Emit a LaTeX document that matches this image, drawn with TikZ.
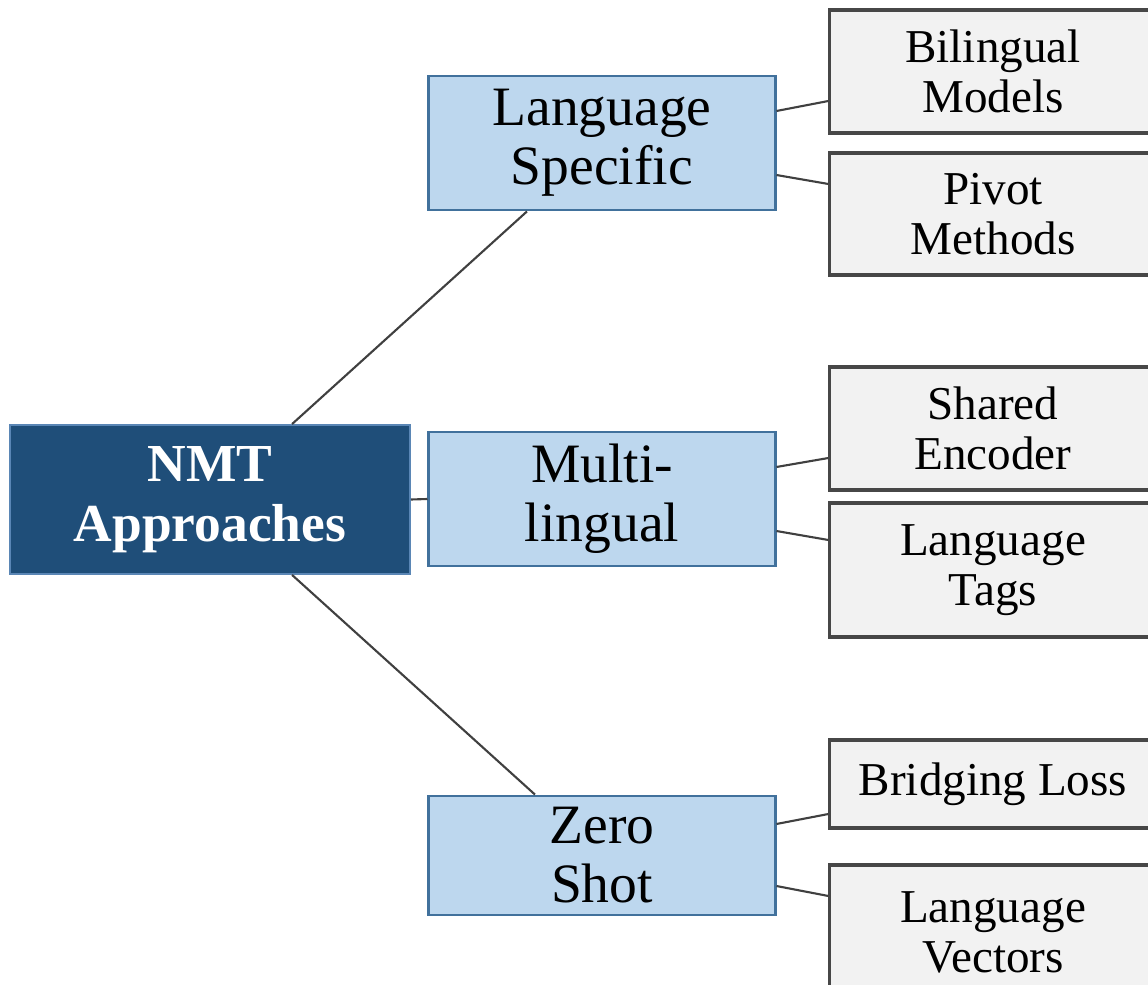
\documentclass[tikz,border=0pt]{standalone}
\usepackage{fontspec}
\setmainfont{Liberation Serif}
\usetikzlibrary{calc}
\definecolor{darkfill}{HTML}{1F4E79}
\definecolor{darkline}{HTML}{5A86B5}
\definecolor{lightfill}{HTML}{BDD7EE}
\definecolor{lightline}{HTML}{41719C}
\definecolor{grayfill}{HTML}{F2F2F2}
\definecolor{grayline}{HTML}{474747}
\definecolor{conn}{HTML}{404040}
\tikzset{
  rootbox/.style={draw=darkline, fill=darkfill, line width=0.5pt, text=white,
    font=\fontsize{15.2pt}{17pt}\selectfont\bfseries, align=center,
    minimum width=4cm, minimum height=1.49cm, inner sep=0pt},
  midbox/.style={draw=lightline, fill=lightfill, line width=0.8pt,
    font=\fontsize{15.8pt}{16.8pt}\selectfont, align=center,
    minimum width=3.46cm, inner sep=0pt},
  leafbox/.style={draw=grayline, fill=grayfill, line width=0.9pt,
    font=\fontsize{13.4pt}{14.2pt}\selectfont, align=center,
    minimum width=3.26cm, inner sep=0pt},
  link/.style={draw=conn, line width=0.6pt}
}
\begin{document}
\begin{tikzpicture}[x=0.01cm,y=-0.01cm]
\useasboundingbox (0,0) rectangle (1148,985);
\clip (0,0) rectangle (1148,985);
\node[rootbox] (nmt) at (210,499.5) {NMT\\Approaches};
\node[midbox, minimum height=1.34cm] (ls) at (602,143) {Language\\Specific};
\node[midbox, minimum height=1.34cm] (ml) at (602,499) {Multi-\\lingual};
\node[midbox, minimum height=1.19cm] (zs) at (602,855.5) {Zero\\Shot};
\node[leafbox, minimum height=1.23cm] (bm) at (993,71.5) {Bilingual\\Models};
\node[leafbox, minimum height=1.22cm] (pm) at (993,214) {Pivot\\Methods};
\node[leafbox, minimum height=1.23cm] (se) at (993,428.5) {Shared\\Encoder};
\node[leafbox, minimum height=1.34cm] (lt) at (993,570) {Language\\Tags};
\node[leafbox, minimum height=0.88cm] (bl) at (993,784) {Bridging Loss};
\node[leafbox, minimum height=1.34cm] (lv) at (993,932) {Language\\Vectors};
\draw[link] ([xshift=0.82cm]nmt.north) -- ([xshift=-0.75cm]ls.south);
\draw[link] (nmt.east) -- (ml.west);
\draw[link] ([xshift=0.82cm]nmt.south) -- ([xshift=-0.67cm]zs.north);
\draw[link] ([yshift=0.32cm]ls.east) -- ([yshift=-0.295cm]bm.west);
\draw[link] ([yshift=-0.32cm]ls.east) -- ([yshift=0.30cm]pm.west);
\draw[link] ([yshift=0.32cm]ml.east) -- ([yshift=-0.295cm]se.west);
\draw[link] ([yshift=-0.32cm]ml.east) -- ([yshift=0.30cm]lt.west);
\draw[link] ([yshift=0.315cm]zs.east) -- ([yshift=-0.30cm]bl.west);
\draw[link] ([yshift=-0.305cm]zs.east) -- ([yshift=0.36cm]lv.west);
\end{tikzpicture}
\end{document}
